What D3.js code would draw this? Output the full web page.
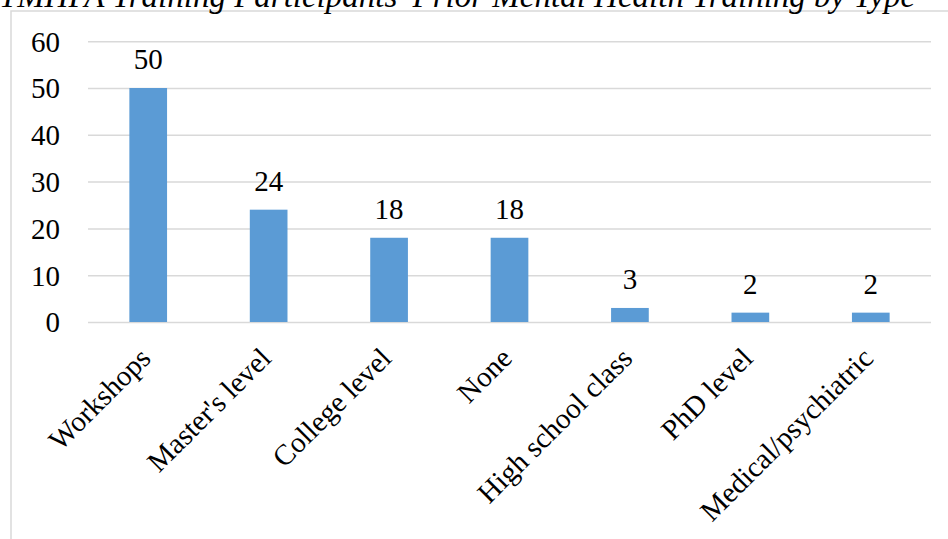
<!DOCTYPE html>
<html>
<head>
<meta charset="utf-8">
<script src="https://cdn.jsdelivr.net/npm/d3@7"></script>
<style>
  html, body { margin: 0; padding: 0; background: #fff; }
  svg { display: block; }
</style>
</head>
<body>
<svg id="chart" width="948" height="539"></svg>
<script>
const titleText = "YMHFA Training Participants' Prior Mental Health Training by Type";
const categories = ["Workshops", "Master's level", "College level", "None", "High school class", "PhD level", "Medical/psychiatric"];
const values = [50, 24, 18, 18, 3, 2, 2];
const yTicks = [0, 10, 20, 30, 40, 50, 60];

const W = 948, H = 539;
const FONT = "'Liberation Serif', 'Times New Roman', serif";
const plot = { left: 88, right: 931, top: 41.2, bottom: 322 };
const svg = d3.select("#chart");

// outer chart frame
svg.append("rect")
  .attr("x", 11).attr("y", 11)
  .attr("width", W + 20).attr("height", H + 20)
  .attr("fill", "none").attr("stroke", "#d9d9d9").attr("stroke-width", 1.5);

// title (partly cropped at top)
svg.append("text")
  .attr("x", 457).attr("y", 7)
  .attr("text-anchor", "middle")
  .style("font-family", FONT)
  .style("font-style", "italic")
  .style("font-size", "33px")
  .attr("fill", "#000")
  .text(titleText);

const x = d3.scaleBand().domain(categories).range([plot.left, plot.right]).paddingInner(0.687).paddingOuter(0.3435);
const y = d3.scaleLinear().domain([0, 60]).range([plot.bottom, plot.top]);

// gridlines + y tick labels
const yAxis = d3.axisLeft(y).tickValues(yTicks).tickSize(-(plot.right - plot.left)).tickPadding(28);
const gy = svg.append("g").attr("transform", `translate(${plot.left},0)`).call(yAxis);
gy.select(".domain").remove();
gy.selectAll(".tick line").attr("stroke", "#d9d9d9").attr("stroke-width", 1.5);
gy.selectAll(".tick text")
  .style("font-family", FONT)
  .style("font-size", "29px").attr("fill", "#000").attr("dy", "0.34em");

// bars
svg.append("g").selectAll("rect").data(values).join("rect")
  .attr("x", (d, i) => x(categories[i]))
  .attr("y", d => y(d))
  .attr("width", x.bandwidth())
  .attr("height", d => y(0) - y(d))
  .attr("fill", "#5b9bd5");

// data labels
svg.append("g").selectAll("text").data(values).join("text")
  .attr("x", (d, i) => x(categories[i]) + x.bandwidth() / 2)
  .attr("y", d => y(d) - 19)
  .attr("text-anchor", "middle")
  .style("font-family", FONT)
  .style("font-size", "29px")
  .attr("fill", "#000")
  .text(d => d);

// category labels
svg.append("g").selectAll("text").data(categories).join("text")
  .attr("transform", d => `translate(${x(d) + x.bandwidth() / 2 + 4},${plot.bottom + 38}) rotate(-45)`)
  .attr("text-anchor", "end")
  .style("font-family", FONT)
  .style("font-size", "29px")
  .attr("fill", "#000")
  .text(d => d);
</script>
</body>
</html>
